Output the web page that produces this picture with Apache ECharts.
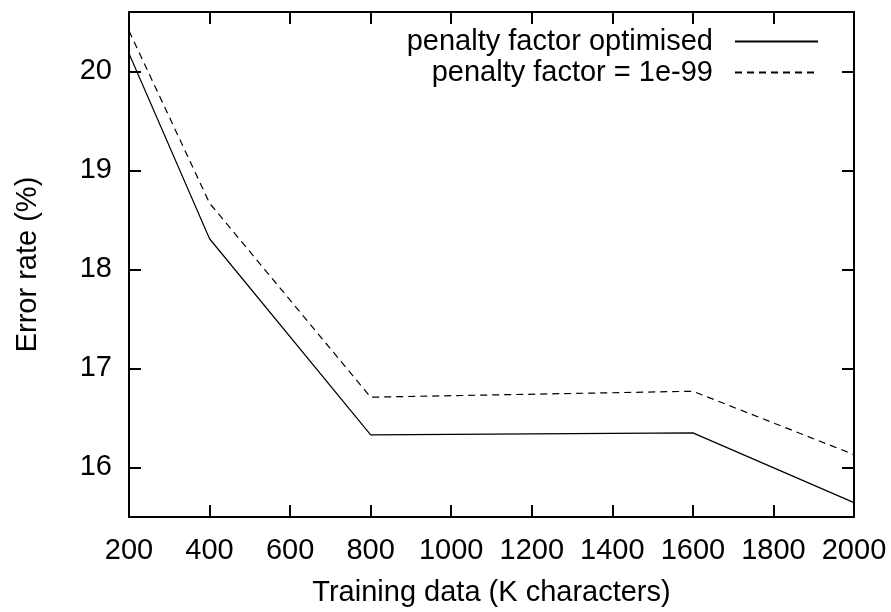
<!DOCTYPE html>
<html><head><meta charset="utf-8">
<script src="https://cdn.jsdelivr.net/npm/echarts@6/dist/echarts.min.js"></script>
<style>html,body{margin:0;padding:0;background:#fff}#c{width:891px;height:612px}</style>
</head><body><div id="c"></div>
<script>
var trainingData = [200, 400, 800, 1600, 2000];
var optimised = [20.18, 18.31, 16.33, 16.35, 15.645];
var penalty1e99 = [20.41, 18.67, 16.71, 16.77, 16.13];
var yTicks = [16, 17, 18, 19, 20];
var seriesNames = ['penalty factor optimised', 'penalty factor = 1e-99'];

var FONT = 'Liberation Sans';
var FS = 29;
function pairs(xs, ys){ return xs.map(function(x,i){return [x, ys[i]];}); }
var tick = {show:true, inside:true, length:12, lineStyle:{color:'#000', width:2}};
var axLine = {show:true, onZero:false, lineStyle:{color:'#000', width:2}};
function plain(v){ return String(v); }

var chart = echarts.init(document.getElementById('c'), null, {renderer:'canvas'});
chart.setOption({
  animation:false,
  backgroundColor:'#fff',
  grid:{left:129, right:37, top:12, bottom:89},
  legend:{
    orient:'vertical', align:'right', right:67, top:22,
    itemWidth:83, itemHeight:14, itemGap:2,
    itemStyle:{opacity:0},
    textStyle:{fontFamily:FONT, fontSize:FS, lineHeight:29, color:'#000', padding:[0,17,0,0]},
    data:seriesNames
  },
  xAxis:[{
    type:'value', min:200, max:2000, interval:200, position:'bottom',
    name:'Training data (K characters)', nameLocation:'middle', nameGap:61,
    nameTextStyle:{fontFamily:FONT, fontSize:FS, color:'#000'},
    axisLine:axLine, axisTick:tick, splitLine:{show:false},
    axisLabel:{fontFamily:FONT, fontSize:FS, color:'#000', margin:19, formatter:plain}
  },{
    type:'value', min:200, max:2000, interval:200, position:'top',
    axisLine:axLine, axisTick:tick, splitLine:{show:false}, axisLabel:{show:false}
  }],
  yAxis:[{
    type:'value', min:15.5, max:20.6, position:'left',
    name:'Error rate (%)', nameLocation:'middle', nameGap:87,
    nameTextStyle:{fontFamily:FONT, fontSize:FS, color:'#000'},
    axisLine:axLine, splitLine:{show:false},
    axisTick:Object.assign({customValues:yTicks}, tick),
    axisLabel:{fontFamily:FONT, fontSize:FS, color:'#000', margin:17, customValues:yTicks, formatter:plain}
  },{
    type:'value', min:15.5, max:20.6, position:'right',
    axisLine:axLine, splitLine:{show:false},
    axisTick:Object.assign({customValues:yTicks}, tick),
    axisLabel:{show:false, customValues:yTicks}
  }],
  series:[{
    name:seriesNames[0], type:'line', symbol:'none', data:pairs(trainingData, optimised),
    lineStyle:{color:'#000', width:1.2, type:'solid'}, itemStyle:{color:'#000'}
  },{
    name:seriesNames[1], type:'line', symbol:'none', data:pairs(trainingData, penalty1e99),
    lineStyle:{color:'#000', width:1.2, type:[7,5]}, itemStyle:{color:'#000'}
  }]
});
</script></body></html>
